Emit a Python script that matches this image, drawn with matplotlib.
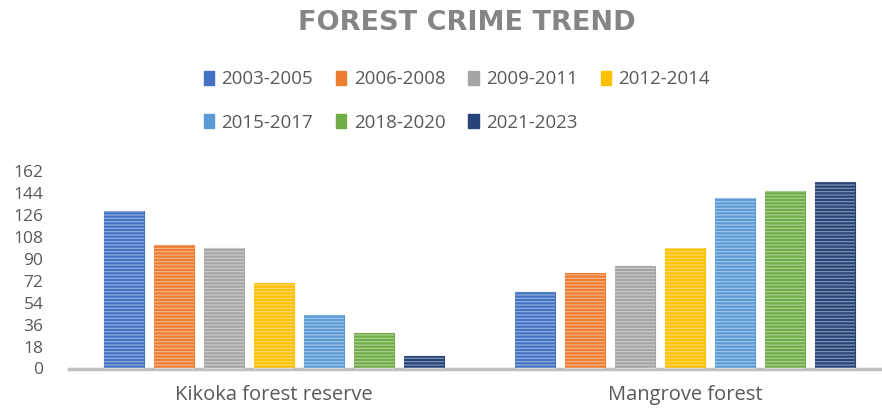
import numpy as np
import matplotlib
matplotlib.use("Agg")
import matplotlib.pyplot as plt
from matplotlib.patches import Patch

# --- data ---
categories = ["Kikoka forest reserve", "Mangrove forest"]
periods = ["2003-2005", "2006-2008", "2009-2011", "2012-2014",
           "2015-2017", "2018-2020", "2021-2023"]
kikoka = [129, 101, 99, 70, 44, 29, 10]
mangrove = [63, 78, 84, 99, 140, 145, 153]
yticks = [0, 18, 36, 54, 72, 90, 108, 126, 144, 162]

colors = ["#4472C4", "#ED7D31", "#A5A5A5", "#FFC000",
          "#5B9BD5", "#70AD47", "#264478"]

plt.rcParams['font.family'] = ['Open Sans', 'DejaVu Sans']
plt.rcParams['hatch.linewidth'] = 0.8

fig = plt.figure(figsize=(8.82, 4.12), dpi=100)
ax = fig.add_axes([68.5 / 882, 43.5 / 412, 822 / 882, 197.8 / 412])

x = np.arange(len(categories))
step = 0.1217
width = 0.0973
values = np.array([kikoka, mangrove])
for i, (p, c) in enumerate(zip(periods, colors)):
    pos = x + (i - 3) * step
    ax.bar(pos, values[:, i], width, color=c, edgecolor=c, linewidth=0.8, zorder=2)
    # stripe texture
    ax.bar(pos, values[:, i], width, facecolor="none", edgecolor=(1, 1, 1, 0.45),
           hatch="-----", linewidth=0, zorder=3)

ax.set_xlim(-0.5, 1.5)
ax.set_ylim(0, 162)
ax.set_yticks(yticks)
ax.set_xticks(x)
ax.set_xticklabels(categories)
ax.tick_params(axis="both", length=0, colors="#595959")
ax.tick_params(axis="x", pad=12, labelsize=14.5)
ax.tick_params(axis="y", pad=18, labelsize=12.5)
for s in ["top", "right", "left"]:
    ax.spines[s].set_visible(False)
ax.spines["bottom"].set_color("#BFBFBF")
ax.spines["bottom"].set_linewidth(2.5)

fig.text(0.529, 0.943, "FOREST CRIME TREND", ha="center", va="center",
         fontsize=19.5, fontweight="bold", color="#858585", family="DejaVu Sans")

handles = [Patch(facecolor=c, edgecolor=c, hatch="-----") for c in colors]
order = [0, 4, 1, 5, 2, 6, 3]
leg = fig.legend([handles[k] for k in order], [periods[k] for k in order],
                 ncol=4, loc="upper left", bbox_to_anchor=(196 / 882, 1 - 63 / 412),
                 frameon=False, fontsize=13.5, handlelength=0.55, handleheight=0.8,
                 handletextpad=0.4, columnspacing=1.22, labelspacing=1.35,
                 borderaxespad=0)
for t in leg.get_texts():
    t.set_color("#595959")

fig.savefig("out.png", dpi=100)
